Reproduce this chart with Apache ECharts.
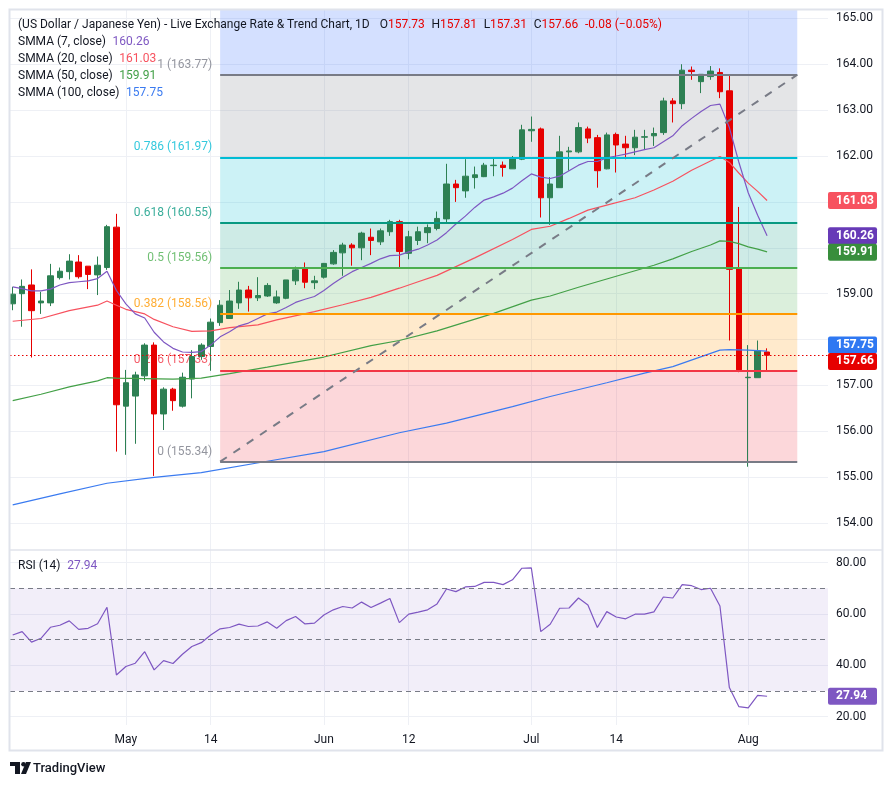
<!DOCTYPE html>
<html><head><meta charset="utf-8">
<script src="https://cdn.jsdelivr.net/npm/echarts@6/dist/echarts.min.js"></script>
<style>html,body{margin:0;padding:0;background:#fff;}#c{width:892px;height:786px;}</style>
</head><body><div id="c"></div>
<script>
// ---------- data ----------
const opens  = [158.78,159.00,159.19,158.80,158.80,159.35,159.48,159.69,159.60,159.41,159.57,160.45,156.55,156.77,157.21,157.88,156.38,156.92,156.55,157.14,157.63,157.85,158.37,158.46,158.80,159.08,158.91,158.95,158.80,158.90,159.28,159.54,159.24,159.36,159.65,159.89,160.06,160.00,160.23,160.13,160.35,160.57,159.88,160.16,160.33,160.42,160.63,161.39,161.24,161.53,161.55,161.79,161.80,161.72,161.93,162.55,162.59,161.09,161.31,162.09,162.09,162.59,162.40,161.72,162.47,162.26,162.18,162.41,162.44,162.51,163.20,163.14,163.87,163.62,163.73,163.82,163.42,159.54,157.17,157.17,157.73];
const closes = [158.99,159.16,158.63,158.84,159.39,159.49,159.71,159.37,159.42,159.62,160.46,156.58,157.06,157.23,157.88,156.38,156.92,156.67,157.18,157.63,157.88,158.38,158.75,158.84,159.08,158.91,158.96,159.18,158.93,159.30,159.52,159.25,159.28,159.66,159.90,160.06,160.00,160.32,160.16,160.37,160.57,159.92,160.24,160.35,160.44,160.64,161.39,161.31,161.56,161.59,161.80,161.80,161.75,161.95,162.57,162.58,161.09,161.39,162.09,162.11,162.62,162.39,161.68,162.46,162.24,162.18,162.41,162.42,162.49,163.20,163.14,163.87,163.84,163.78,163.85,163.40,159.53,157.34,157.18,157.76,157.66];
const lows   = [158.64,158.28,157.61,158.56,158.73,159.31,159.31,159.33,159.10,158.97,159.52,155.56,155.49,155.73,157.10,155.03,156.03,156.45,156.52,156.72,157.56,157.32,158.30,158.46,158.67,158.61,158.84,158.93,158.78,158.88,159.19,159.12,159.10,159.33,159.63,159.39,159.61,159.73,159.84,160.06,160.26,159.57,159.75,160.06,160.10,160.38,160.52,161.00,161.09,161.29,161.54,161.56,161.55,161.72,161.91,162.31,160.66,160.50,161.31,161.68,162.06,162.28,161.31,161.71,161.64,161.93,162.02,162.13,162.22,162.46,162.73,163.02,163.66,163.37,163.66,163.26,157.98,157.29,155.23,157.17,157.31];
const highs  = [159.15,159.31,159.53,159.04,159.65,159.57,159.86,159.84,159.60,159.81,160.50,160.74,157.34,157.30,157.92,157.94,156.96,156.95,157.28,157.77,157.92,158.46,158.86,159.08,159.26,159.17,159.36,159.23,159.07,159.30,159.59,159.68,159.39,159.67,159.95,160.11,160.10,160.35,160.42,160.42,160.61,160.61,160.37,160.46,160.51,160.79,161.83,161.48,161.93,161.77,161.85,161.96,161.88,162.00,162.68,162.86,162.62,161.54,162.44,162.20,162.73,162.64,162.46,162.51,162.51,162.44,162.57,162.57,162.62,163.27,163.26,164.00,163.95,163.78,163.96,163.91,163.76,160.89,157.88,157.98,157.81];

const smma7 = [159.15,159.11,159.06,159.06,159.10,159.19,159.24,159.26,159.28,159.33,159.49,159.07,158.78,158.56,158.47,158.16,157.95,157.81,157.73,157.72,157.74,157.88,158.06,158.17,158.30,158.36,158.46,158.56,158.60,158.70,158.81,158.88,158.94,159.07,159.22,159.36,159.48,159.57,159.66,159.76,159.83,159.84,159.91,159.97,160.06,160.17,160.33,160.52,160.69,160.88,161.04,161.11,161.19,161.30,161.46,161.61,161.54,161.51,161.56,161.68,161.80,161.88,161.88,161.96,162.00,162.04,162.09,162.14,162.18,162.31,162.44,162.66,162.82,162.97,163.10,163.13,162.62,161.87,161.20,160.71,160.26];
const smma20 = [[0,158.40],[3,158.46],[6,158.63],[9,158.75],[10,158.84],[11,158.75],[12,158.66],[14,158.56],[15,158.44],[17,158.28],[19,158.18],[21,158.19],[23,158.26],[26,158.32],[28,158.43],[32,158.61],[35,158.76],[38,158.92],[41,159.12],[43,159.26],[45,159.40],[49,159.78],[53,160.18],[55,160.40],[57,160.47],[59,160.64],[61,160.82],[63,160.93],[66,161.09],[68,161.26],[70,161.45],[72,161.69],[74,161.89],[75,161.99],[76,161.86],[77,161.63],[78,161.41],[79,161.23],[80,161.03]];
const smma50 = [[0,156.67],[3,156.81],[6,156.97],[9,157.10],[10,157.17],[11,157.16],[14,157.15],[17,157.14],[20,157.16],[23,157.26],[27,157.40],[33,157.62],[38,157.87],[41,157.98],[45,158.19],[51,158.57],[55,158.86],[57,158.95],[60,159.14],[63,159.32],[68,159.62],[70,159.76],[72,159.92],[74,160.06],[75,160.15],[76,160.14],[77,160.09],[78,160.02],[79,159.97],[80,159.91]];
const smma100 = [[0,154.40],[5,154.64],[10,154.87],[15,155.00],[20,155.10],[27,155.35],[33,155.56],[41,155.97],[46,156.18],[53,156.54],[57,156.76],[63,157.06],[67,157.27],[70,157.41],[75,157.77],[76,157.78],[78,157.77],[80,157.75]];

const rsi = [51.8,53.1,49.0,50.5,54.8,55.6,57.3,54.0,54.4,56.2,62.6,36.2,39.5,40.8,45.3,38.2,41.8,40.7,44.3,47.3,48.8,51.8,54.2,54.7,56.0,55.1,55.3,56.9,54.4,57.4,59.0,56.1,56.4,59.6,61.6,62.9,62.3,64.6,62.5,64.2,66.0,56.6,59.9,60.7,61.6,63.9,69.7,68.7,70.5,70.7,72.3,72.3,71.4,73.3,77.8,77.9,53.1,56.0,62.2,62.3,66.2,63.5,54.7,60.9,58.8,58.1,59.9,59.9,60.8,66.6,66.2,71.4,71.0,69.5,70.0,63.1,31.3,23.9,23.4,28.3,27.94];

const tickBars   = [12,21,33,42,55,64,78];
const tickLabels = ['May','14','Jun','12','Jul','14','Aug'];
const priceTicks = [154,155,156,157,158,159,160,161,162,163,164,165];
const priceLabels = [154,155,156,157,159,162,163,164,165]; // 158/160/161 are covered by the value tags
const rsiTicks   = [20,40,60,80];

const fibLevels = ['1','0.786','0.618','0.5','0.382','0.236','0'];
const fibPrices = [163.77,161.97,160.55,159.56,158.56,157.33,155.34];
const fibStartBar = 22, fibEndBar = 83.2;

const lastPrice = 157.66;
const headerOHLC = {O:'157.73',H:'157.81',L:'157.31',C:'157.66',chg:'-0.08 (−0.05%)'};
const smmaNames = ['SMMA (7, close)','SMMA (20, close)','SMMA (50, close)','SMMA (100, close)'];
const smmaLast  = [160.26,161.03,159.91,157.75];
const rsiLast = 27.94;

// ---------- styles ----------
const GREEN = '#2d8053', RED = '#e60000';
const C7 = '#7e57c2', C20 = '#f7525f', C50 = '#43a047', C100 = '#3b7bf0';
const fibLine = ['#787b86','#00bcd4','#089981','#4caf50','#ff9800','#f23645','#787b86'];
const fibFill = ['rgba(41,98,255,0.2)','rgba(120,123,134,0.2)','rgba(0,188,212,0.2)','rgba(8,153,129,0.2)','rgba(76,175,80,0.2)','rgba(255,152,0,0.2)','rgba(242,54,69,0.2)'];
const FONT = 'Roboto';
const GRIDC = '#eef0f5';
const TXT = 12;

const X_MIN = -0.286, X_MAX = 86.46;
const Y_MIN = 153.416, Y_MAX = 165.181;

const chart = echarts.init(document.getElementById('c'), null, {renderer:'canvas'});

const fibAreas = [];
fibAreas.push([{coord:[fibStartBar, fibPrices[0]], itemStyle:{color:fibFill[0]}},{coord:[fibEndBar, Y_MAX]}]);
for (let i=0;i<fibPrices.length-1;i++){
  fibAreas.push([{coord:[fibStartBar, fibPrices[i+1]], itemStyle:{color:fibFill[i+1]}},{coord:[fibEndBar, fibPrices[i]]}]);
}
const fibLines = fibPrices.map((p,i)=>[{coord:[fibStartBar,p], lineStyle:{color:fibLine[i], width:2, type:'solid'}},{coord:[fibEndBar,p]}]);
fibLines.push([{coord:[fibStartBar,fibPrices[6]], lineStyle:{color:'#787b86', width:2, type:[8,8]}},{coord:[fibEndBar,fibPrices[0]]}]);

const option = {
  animation:false,
  backgroundColor:'#ffffff',
  textStyle:{fontFamily:FONT},
  grid:[
    {left:10, top:10, width:818, height:540},
    {left:10, top:550, width:818, height:175}
  ],
  xAxis:[
    {type:'value', gridIndex:0, min:X_MIN, max:X_MAX,
     axisLine:{show:false}, axisTick:{show:false, customValues:tickBars},
     axisLabel:{show:false, customValues:tickBars},
     splitLine:{show:true, lineStyle:{color:GRIDC, width:1}}},
    {type:'value', gridIndex:1, min:X_MIN, max:X_MAX,
     axisLine:{show:false}, axisTick:{show:false, customValues:tickBars},
     axisLabel:{show:true, customValues:tickBars, color:'#131722', fontSize:12, fontFamily:FONT, margin:9,
       formatter:(v)=>{const k=tickBars.indexOf(Math.round(v)); return k>=0?tickLabels[k]:'';}},
     splitLine:{show:true, lineStyle:{color:GRIDC, width:1}}}
  ],
  yAxis:[
    {type:'value', gridIndex:0, position:'right', min:Y_MIN, max:Y_MAX,
     axisLine:{show:false}, axisTick:{show:false, customValues:priceTicks},
     axisLabel:{customValues:priceLabels, formatter:(v)=>v.toFixed(2), color:'#131722', fontSize:12, fontFamily:FONT, margin:8},
     splitLine:{show:true, lineStyle:{color:GRIDC, width:1}}},
    {type:'value', gridIndex:1, position:'right', min:16.73, max:84.9,
     axisLine:{show:false}, axisTick:{show:false, customValues:rsiTicks},
     axisLabel:{customValues:rsiTicks, formatter:(v)=>v.toFixed(2), color:'#131722', fontSize:12, fontFamily:FONT, margin:8},
     splitLine:{show:true, lineStyle:{color:GRIDC, width:1}}}
  ],
  series:[
    {
      type:'line', xAxisIndex:0, yAxisIndex:0, z:1,
      data:[[fibStartBar, fibPrices[6]]], symbol:'none', lineStyle:{opacity:0},
      markArea:{silent:true, data:fibAreas},
      markLine:{silent:true, symbol:['none','none'], label:{show:false}, data:fibLines}
    },
    {
      type:'scatter', xAxisIndex:0, yAxisIndex:0, z:2, symbolSize:0, silent:true,
      data:fibPrices.map((p,i)=>({value:[fibStartBar,p], label:{color:fibLine[i]}})),
      label:{show:true, position:'left', distance:8, offset:[0,-10], fontSize:TXT, fontFamily:FONT,
        formatter:(pr)=>fibLevels[pr.dataIndex]+' ('+fibPrices[pr.dataIndex].toFixed(2)+')'}
    },
    {
      type:'line', xAxisIndex:0, yAxisIndex:0, z:2, data:[], symbol:'none',
      markLine:{silent:true, symbol:['none','none'], label:{show:false},
        data:[{yAxis:lastPrice, lineStyle:{color:RED, width:1, type:[1.5,2.5]}}]}
    },
    {
      type:'candlestick', xAxisIndex:0, yAxisIndex:0, z:3, barWidth:6,
      data:opens.map((o,i)=>[i,o,closes[i],lows[i],highs[i]]),
      itemStyle:{color:GREEN, color0:RED, borderColor:GREEN, borderColor0:RED, borderWidth:1}
    },
    {type:'line', xAxisIndex:0, yAxisIndex:0, z:4, symbol:'none', data:smma100, lineStyle:{color:C100, width:1.2}},
    {type:'line', xAxisIndex:0, yAxisIndex:0, z:4, symbol:'none', data:smma50, lineStyle:{color:C50, width:1.2}},
    {type:'line', xAxisIndex:0, yAxisIndex:0, z:4, symbol:'none', data:smma20, lineStyle:{color:C20, width:1.2}},
    {type:'line', xAxisIndex:0, yAxisIndex:0, z:4, symbol:'none', data:smma7.map((v,i)=>[i,v]), lineStyle:{color:C7, width:1.2}},
    {
      type:'line', xAxisIndex:1, yAxisIndex:1, z:4, symbol:'none',
      data:rsi.map((v,i)=>[i,v]), lineStyle:{color:C7, width:1.2},
      markArea:{silent:true, data:[[{yAxis:30, itemStyle:{color:'rgba(126,87,194,0.1)'}},{yAxis:70}]]},
      markLine:{silent:true, symbol:['none','none'], label:{show:false},
        lineStyle:{color:'#787b86', width:1, type:[5,4]},
        data:[{yAxis:70},{yAxis:50},{yAxis:30}]}
    }
  ]
};
chart.setOption(option);

// ---------- value tags on the price axis & texts ----------
const tags = [
  {v:smmaLast[1], bg:C20},
  {v:smmaLast[0], bg:'#673ab7'},
  {v:smmaLast[2], bg:'#388e3c'},
  {v:smmaLast[3], bg:'#2f78f2'},
  {v:lastPrice,  bg:RED}
];
tags.forEach(t=>{t.y = chart.convertToPixel({yAxisIndex:0}, t.v);});
tags.sort((a,b)=>a.y-b.y);
for (let k=0;k<3;k++){
  for (let i=0;i<tags.length-1;i++){
    const gap = tags[i+1].y - tags[i].y;
    if (gap < 16.5){ const d=(16.5-gap)/2; tags[i].y-=d; tags[i+1].y+=d; }
  }
}
const rsiY = chart.convertToPixel({yAxisIndex:1}, rsiLast);

const g = [];
function tag(y, txt, bg){
  g.push({type:'rect', z:100, shape:{x:828, y:y-8.5, width:49, height:17, r:2}, style:{fill:bg}});
  g.push({type:'text', z:101, style:{x:836, y:y, text:txt, fill:'#fff', fontSize:12, fontWeight:'bold', fontFamily:FONT, verticalAlign:'middle'}});
}
tags.forEach(t=>tag(t.y, t.v.toFixed(2), t.bg));
tag(rsiY, rsiLast.toFixed(2), C7);

g.push({type:'rect', z:90, shape:{x:9.5, y:9.5, width:873, height:741}, style:{fill:'none', stroke:'#e0e3eb', lineWidth:2}});
g.push({type:'line', z:90, shape:{x1:10, y1:550, x2:882, y2:550}, style:{stroke:'#e0e3eb', lineWidth:1.5}});

const nStyle = {fill:'#131722', fontSize:TXT, fontFamily:FONT};
g.push({type:'text', z:102, style:{x:18, y:25, verticalAlign:'middle',
  text:'{n|(US Dollar / Japanese Yen) - Live Exchange Rate & Trend Chart, 1D}   {n|O}{r|'+headerOHLC.O+'}  {n|H}{r|'+headerOHLC.H+'}  {n|L}{r|'+headerOHLC.L+'}  {n|C}{r|'+headerOHLC.C+'}  {r|'+headerOHLC.chg+'}',
  rich:{n:nStyle, r:{fill:RED, fontSize:TXT, fontFamily:FONT}}}});
const legColors = [C7, C20, C50, C100];
smmaNames.forEach((nm,i)=>{
  g.push({type:'text', z:102, style:{x:18, y:42.3+i*16.8, verticalAlign:'middle',
    text:'{n|'+nm+'}  {v|'+smmaLast[i].toFixed(2)+'}',
    rich:{n:nStyle, v:{fill:legColors[i], fontSize:TXT, fontFamily:FONT}}}});
});
g.push({type:'text', z:102, style:{x:18, y:566, verticalAlign:'middle',
  text:'{n|RSI (14)}  {v|'+rsiLast.toFixed(2)+'}',
  rich:{n:nStyle, v:{fill:C7, fontSize:TXT, fontFamily:FONT}}}});

g.push({type:'polygon', z:102, shape:{points:[[10,762],[20,762],[20,774],[15,774],[15,766],[10,766]]}, style:{fill:'#131722'}});
g.push({type:'circle', z:102, shape:{cx:23.5, cy:764.3, r:2.3}, style:{fill:'#131722'}});
g.push({type:'polygon', z:102, shape:{points:[[26,762],[31,762],[26,774],[21,774]]}, style:{fill:'#131722'}});
g.push({type:'text', z:102, style:{x:33, y:768.5, verticalAlign:'middle', text:'TradingView', fill:'#131722', fontSize:13, fontWeight:500, fontFamily:FONT}});

chart.setOption({graphic:g});
</script>
</body></html>
